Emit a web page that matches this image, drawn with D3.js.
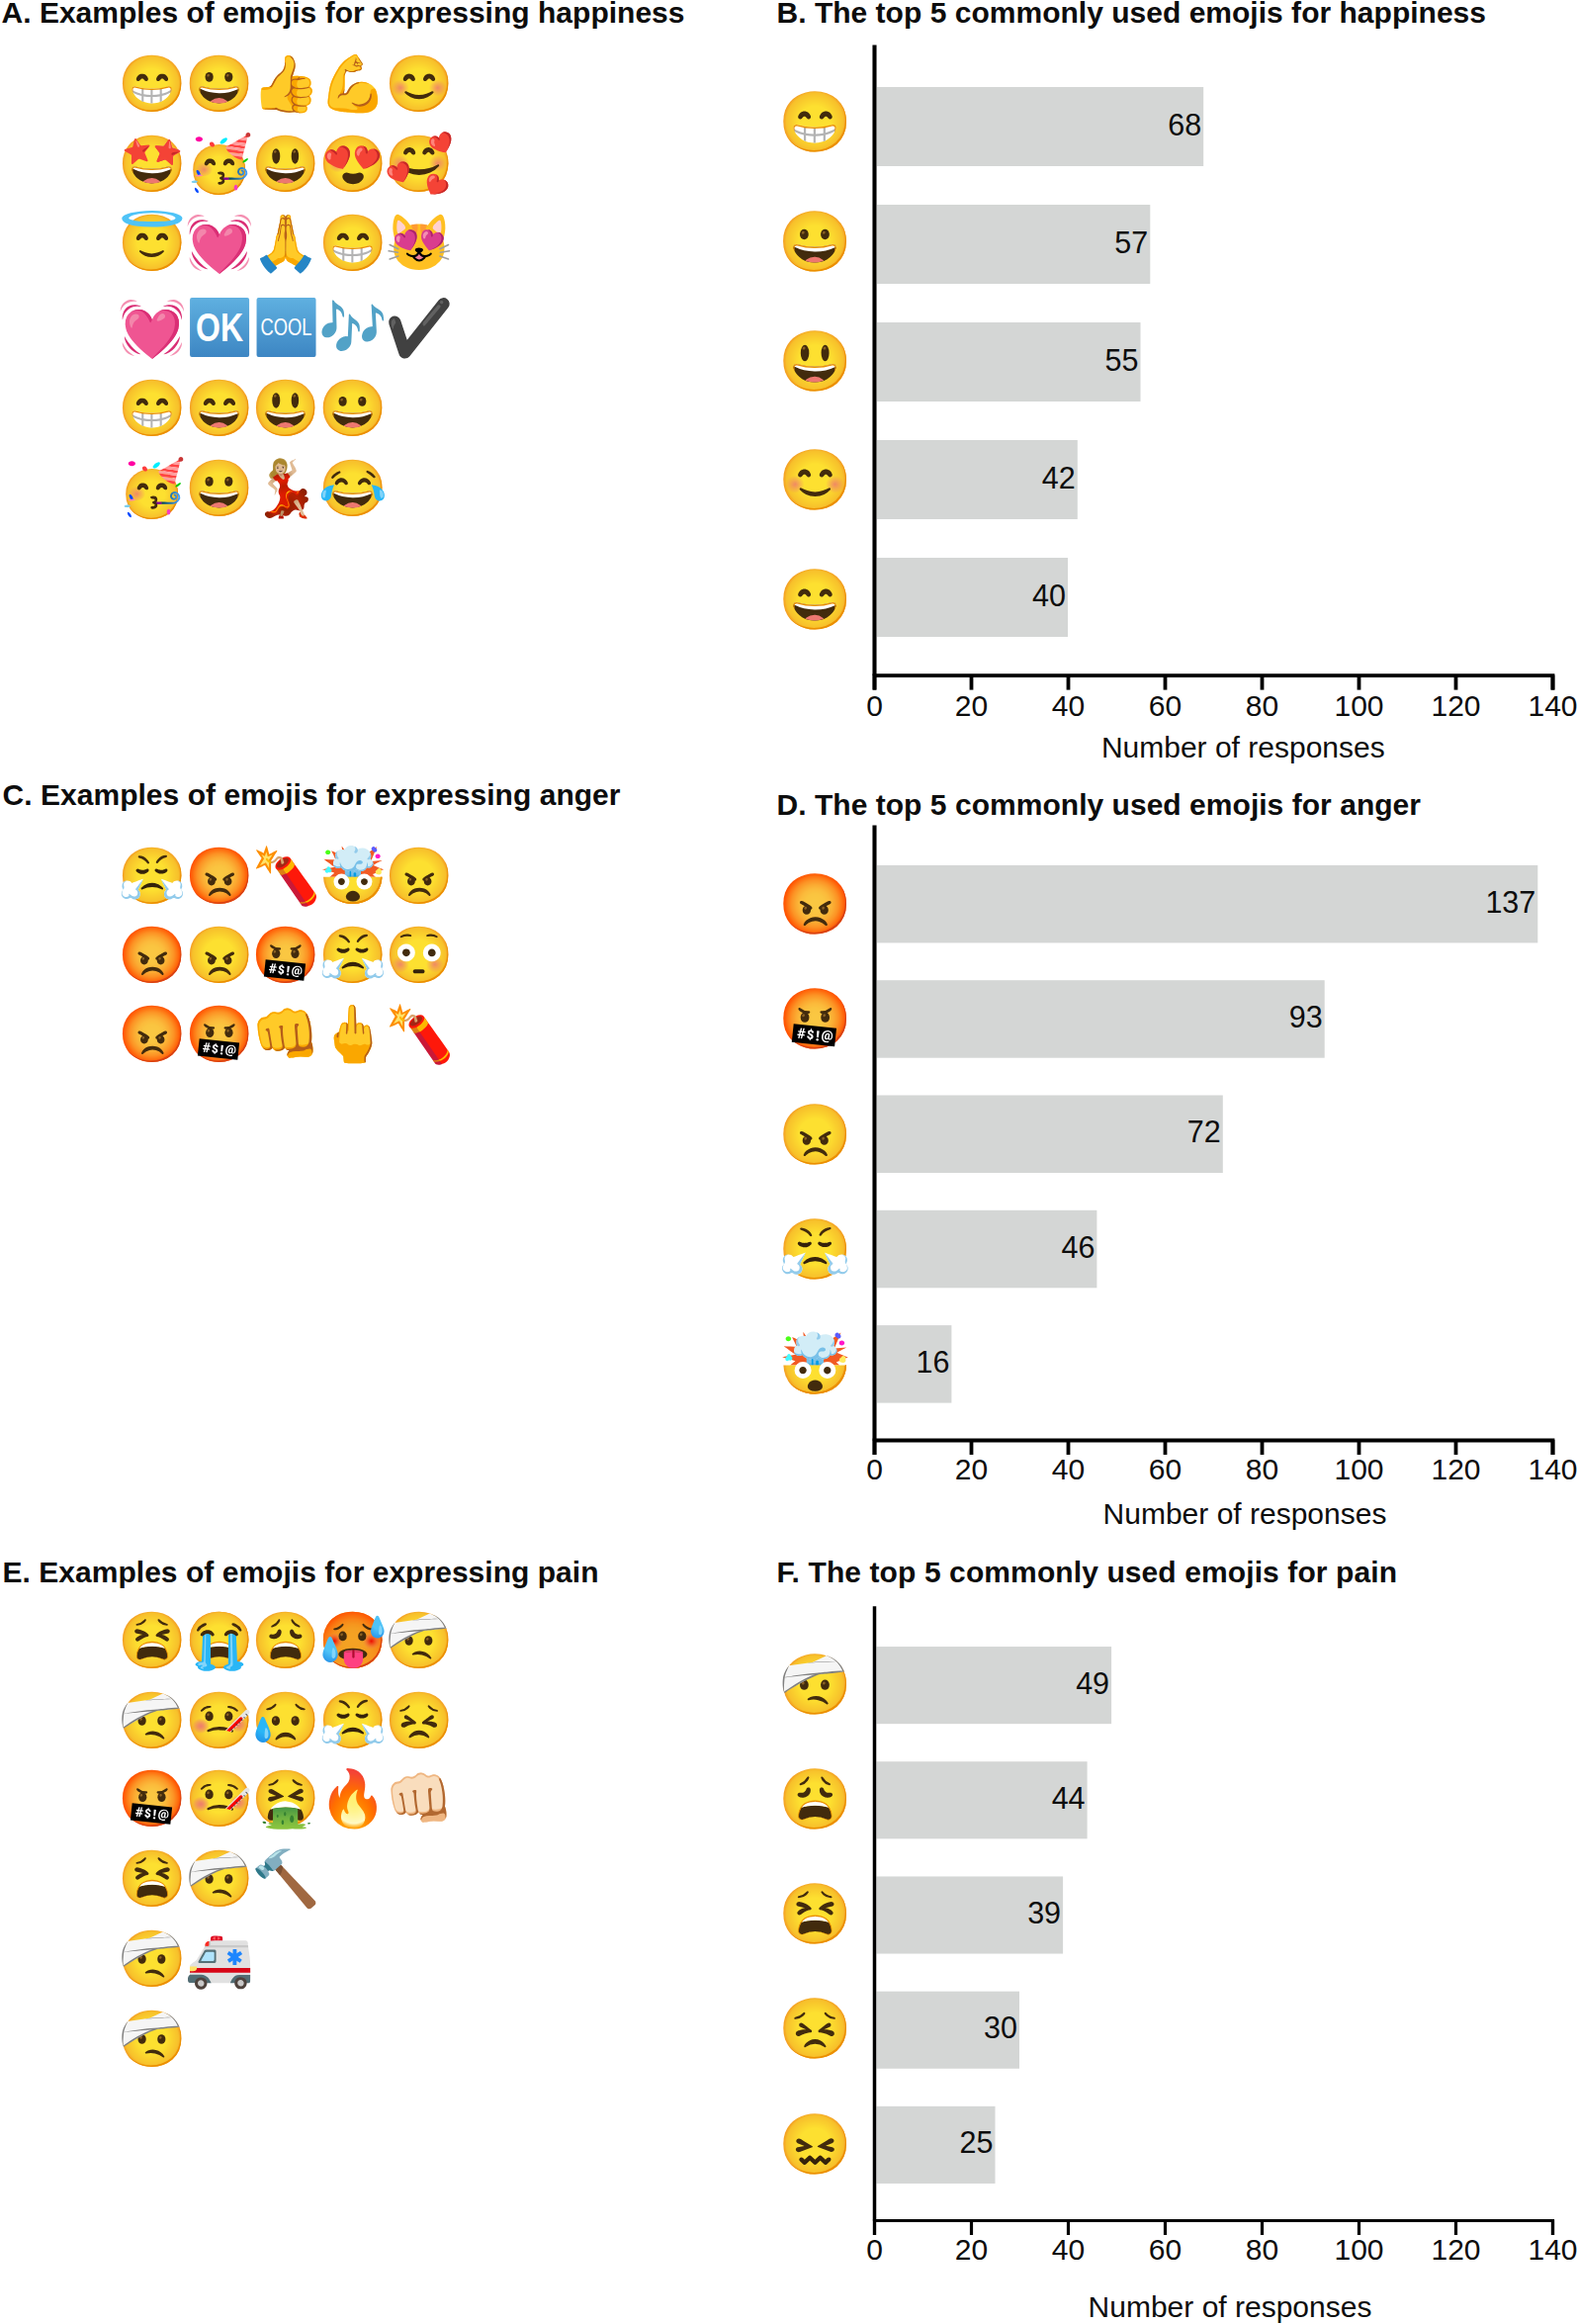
<!DOCTYPE html>
<html><head><meta charset="utf-8"><script src="https://cdn.jsdelivr.net/npm/d3@7"></script>
<style>html,body{margin:0;background:#fff}svg{display:block}text{font-family:"Liberation Sans",Arial,sans-serif;fill:#0d0d0d}.emo{font-family:"Noto Color Emoji"}</style></head><body>
<svg id="chart" width="1595" height="2350">
<defs><linearGradient id="sq" x1="0" y1="0" x2="0" y2="1"><stop offset="0" stop-color="#5fb0e0"/><stop offset="1" stop-color="#3d86c3"/></linearGradient></defs>
</svg>
<script>
// ---- data ----
const happinessExamples = [["😁","😀","👍","💪","😊"],["🤩","🥳","😃","😍","🥰"],["😇","💓","🙏","😁","😻"],["💓","OK","COOL","🎶","✔️"],["😁","😄","😃","😀"],["🥳","😀","💃🏼","😂"]];
const angerExamples = [["😤","😡","🧨","🤯","😠"],["😡","😠","🤬","😤","😳"],["😡","🤬","👊","🖕","🧨"]];
const painExamples = [["😫","😭","😩","🥵","🤕"],["🤕","🤒","😥","😤","😣"],["🤬","🤒","🤮","🔥","👊🏻"],["😫","🤕","🔨"],["🤕","🚑"],["🤕"]];
const happinessTop = ["😁","😀","😃","😊","😄"], happinessCounts = [68,57,55,42,40];
const angerTop = ["😡","🤬","😠","😤","🤯"], angerCounts = [137,93,72,46,16];
const painTop = ["🤕","😩","😫","😣","😖"], painCounts = [49,44,39,30,25];
const countTicks = [0,20,40,60,80,100,120,140];

// ---- layout ----
const svg = d3.select("#chart");
const F = 30, xR = [884,1570];
const x = d3.scaleLinear().domain([0,140]).range(xR);
const columnX = d3.scalePoint().domain(d3.range(5)).range([154.6,424.5]);

function title(t,px,py,w){
  svg.append("text").attr("x",px).attr("y",py).attr("font-size",F).attr("font-weight","bold")
    .attr("textLength",w).attr("lengthAdjust","spacing").text(t);
}
function emoji(g,ch,cx,cy,size){
  if(ch==="OK"||ch==="COOL"){ // blue squared word signs
    g.append("rect").attr("x",cx-30).attr("y",cy-30).attr("width",60).attr("height",60).attr("rx",2).attr("fill","url(#sq)");
    g.append("text").attr("x",cx).attr("y",cy+(ch==="OK"?14:8)).attr("text-anchor","middle")
      .attr("font-size",ch==="OK"?40:24).attr("font-weight",ch==="OK"?"bold":"normal").attr("style","fill:#fff")
      .attr("textLength",ch==="OK"?48:52).attr("lengthAdjust","spacingAndGlyphs").text(ch);
    return;
  }
  const t = g.append("text").attr("class","emo").attr("x",0).attr("y",size*0.35).attr("text-anchor","middle").attr("font-size",size).text(ch);
  t.attr("transform",`translate(${cx},${cy})`+(ch==="🧨"?" scale(-1,1)":""));
  if(ch==="🎶") t.style("filter","brightness(1.4) saturate(2.2)");
  if(ch==="✔️") t.style("filter","saturate(0) brightness(.62)");
}
function grid(rows,rowY){
  const g = svg.append("g");
  rows.forEach((r,i)=>r.forEach((c,j)=>emoji(g,c,columnX(j),rowY[i],56)));
}
function bars(cfg){
  const g = svg.append("g");
  const y = d3.scaleBand().domain(d3.range(cfg.values.length)).range(cfg.band).paddingInner(cfg.pad).paddingOuter(cfg.pad/2);
  const ey = d3.scalePoint().domain(d3.range(cfg.values.length)).range(cfg.emojiY);
  g.selectAll("rect").data(cfg.values).join("rect")
    .attr("x",cfg.barX).attr("y",(d,i)=>y(i)).attr("width",d=>x(d)-cfg.barX).attr("height",y.bandwidth()).attr("fill","#d4d6d5");
  g.selectAll(".v").data(cfg.values).join("text").attr("class","v")
    .attr("x",d=>x(d)-2).attr("y",(d,i)=>y(i)+y.bandwidth()/2+8.5).attr("text-anchor","end").attr("font-size",30.5).text(d=>d);
  cfg.labels.forEach((c,i)=>emoji(g,c,824.4,ey(i),60));
  const ax = g.append("g").attr("transform",`translate(0,${cfg.axisY})`)
    .call(d3.axisBottom(x).tickValues(countTicks).tickSize(cfg.tick).tickSizeOuter(cfg.tick).tickPadding(5));
  ax.attr("font-family",null);
  ax.selectAll("path,line").attr("stroke","#000").attr("stroke-width",cfg.sw);
  ax.selectAll(".tick text").attr("font-size",30).attr("y",cfg.tickLabelDy).attr("dy",0).attr("fill",null);
  const ay = g.append("g").attr("transform",`translate(${xR[0]},0)`)
    .call(d3.axisLeft(d3.scaleLinear().range([cfg.axisTop,cfg.axisY])).tickValues([]).tickSize(0));
  ay.select("path").attr("stroke","#000").attr("stroke-width",cfg.sw+.3);
  g.append("text").attr("x",cfg.labelX).attr("y",cfg.labelY).attr("text-anchor","middle").attr("font-size",F).text("Number of responses");
}

// panel A
title("A. Examples of emojis for expressing happiness",1.5,23,691);
grid(happinessExamples,[84,165,245,331,412,493.5]);
// panel B
title("B. The top 5 commonly used emojis for happiness",785.5,23,717.5);
bars({values:happinessCounts,labels:happinessTop,band:[68.5,663.5],pad:.328,barX:887,emojiY:[123.4,606],axisY:682.6,axisTop:45,tick:15,sw:3.8,tickLabelDy:41,labelX:1257.3,labelY:766});
// panel C
title("C. Examples of emojis for expressing anger",2.5,814,625);
grid(angerExamples,[885,965.3,1045.7]);
// panel D
title("D. The top 5 commonly used emojis for anger",785.5,823.5,651.5);
bars({values:angerCounts,labels:angerTop,band:[856,1437.5],pad:.325,barX:887,emojiY:[913.8,1379.4],axisY:1456,axisTop:834,tick:15,sw:3.8,tickLabelDy:40,labelX:1259,labelY:1541});
// panel E
title("E. Examples of emojis for expressing pain",2.5,1600,603);
grid(painExamples,[1658,1739,1818,1899,1980,2061]);
// panel F
title("F. The top 5 commonly used emojis for pain",785.5,1600,627.5);
bars({values:painCounts,labels:painTop,band:[1646,2227],pad:.328,barX:886.5,emojiY:[1703.3,2167.5],axisY:2245,axisTop:1623.7,tick:15,sw:3.2,tickLabelDy:40,labelX:1244,labelY:2342.6});
</script></body></html>
